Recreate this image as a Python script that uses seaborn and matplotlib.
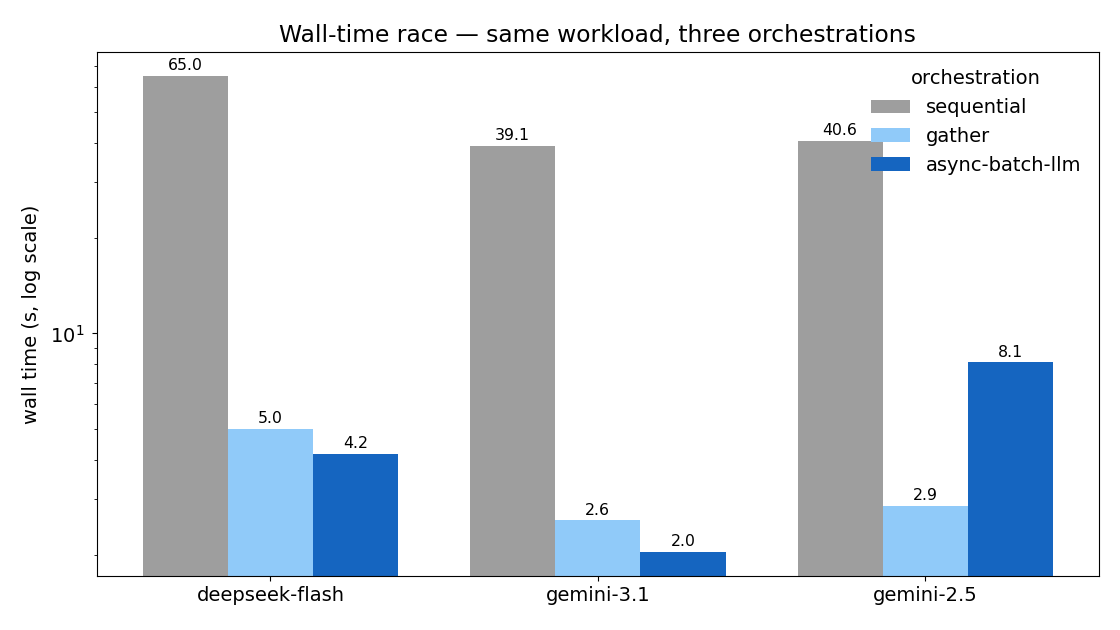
import matplotlib
matplotlib.use("Agg")
import matplotlib.pyplot as plt
import seaborn as sns
import pandas as pd

# --- data (bar heights, labels round to 1 dp) ---
models = ["deepseek-flash", "gemini-3.1", "gemini-2.5"]
orchestrations = ["sequential", "gather", "async-batch-llm"]
sequential = [65.0, 39.1, 40.6]
gather = [5.0, 2.57, 2.86]
async_batch = [4.16, 2.04, 8.1]
palette = ["#9e9e9e", "#90caf9", "#1565c0"]

df = pd.DataFrame({
    "model": models * 3,
    "orchestration": [o for o in orchestrations for _ in models],
    "wall": sequential + gather + async_batch,
})

fig, ax = plt.subplots(figsize=(11.2, 6.3), dpi=100)
sns.barplot(data=df, x="model", y="wall", hue="orchestration",
            order=models, hue_order=orchestrations, palette=palette,
            width=0.78, gap=0, saturation=1, ax=ax)
ax.set_yscale("log")

for c in ax.containers:
    ax.bar_label(c, fmt="%.1f", padding=2, fontsize=11.3)

ax.set_xlim(-0.53, 2.53)
ax.set_ylim(1.716, 77.3)
ax.set_title("Wall-time race — same workload, three orchestrations",
             fontsize=16.8, pad=7.5)
ax.set_xlabel("")
ax.set_ylabel("wall time (s, log scale)", fontsize=14, labelpad=6.5)
ax.tick_params(axis="both", labelsize=14)
ax.tick_params(axis="y", which="major", pad=5.5)
ax.legend(title="orchestration", frameon=False, loc="upper right",
          fontsize=14, title_fontsize=14)

fig.subplots_adjust(left=0.0866, right=0.981, top=0.9175, bottom=0.0857)
fig.savefig("out.png")
